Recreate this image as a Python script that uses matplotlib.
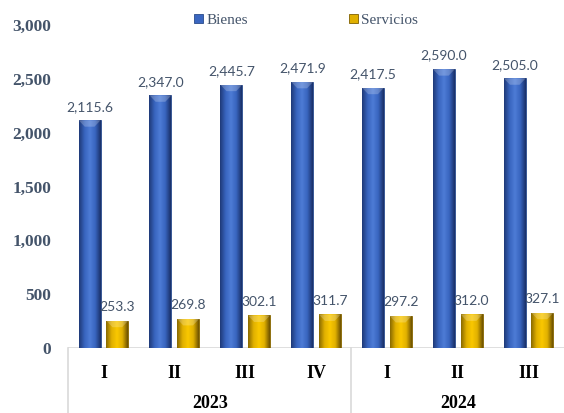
import matplotlib
matplotlib.use("Agg")
import matplotlib.pyplot as plt
import numpy as np
from matplotlib.colors import LinearSegmentedColormap
from matplotlib.transforms import blended_transform_factory

quarters = ["I", "II", "III", "IV", "I", "II", "III"]
years = ["2023", "2024"]
year_sizes = [4, 3]
bienes = [2115.6, 2347.0, 2445.7, 2471.9, 2417.5, 2590.0, 2505.0]
servicios = [253.3, 269.8, 302.1, 311.7, 297.2, 312.0, 327.1]
series_names = ["Bienes", "Servicios"]
yticks = [0, 500, 1000, 1500, 2000, 2500, 3000]

W, H = 564, 413
fig = plt.figure(figsize=(W / 100, H / 100), dpi=100)
ax = fig.add_axes([68 / W, 1 - 348 / H, 1 - 68 / W, (348 - 25) / H])

x = np.arange(len(quarters))
bw = 0.31
off = 0.195
blue_cmap = LinearSegmentedColormap.from_list(
    "b", ["#1F3A78", "#3864BE", "#4E7CD6", "#3864BE", "#1A3068"])
gold_cmap = LinearSegmentedColormap.from_list(
    "g", ["#8A6A00", "#E0B000", "#FAC800", "#E0B000", "#6E5200"])

bars_b = ax.bar(x - off, bienes, bw, color="#3A66C0", edgecolor="#2A4A8A",
                linewidth=0.6, label=series_names[0], zorder=2)
bars_s = ax.bar(x + off, servicios, bw, color="#E0B000", edgecolor="#7F6000",
                linewidth=0.6, label=series_names[1], zorder=2)

grad = np.linspace(0, 1, 64).reshape(1, -1)
for bars, cmap in ((bars_b, blue_cmap), (bars_s, gold_cmap)):
    for p in bars:
        x0, y0 = p.get_x(), p.get_y()
        w, h = p.get_width(), p.get_height()
        im = ax.imshow(grad, cmap=cmap, aspect="auto",
                       extent=(x0, x0 + w, y0, y0 + h), zorder=3)
        im.set_clip_path(p)
        cap = min(h * 0.5, 60)
        tri = plt.Polygon([(x0, y0 + h), (x0 + w, y0 + h),
                           (x0 + w * 0.72, y0 + h - cap),
                           (x0 + w * 0.28, y0 + h - cap)],
                          closed=True, facecolor="white", alpha=0.22,
                          edgecolor="none", zorder=4)
        ax.add_patch(tri)

label_kw = dict(ha="center", va="bottom", fontsize=10, color="#44546A",
                family=["Lato", "DejaVu Sans"])
for xi, v in zip(x, bienes):
    ax.text(xi - off, v + 70, f"{v:,.1f}", **label_kw)
for xi, v in zip(x, servicios):
    ax.text(xi + off, v + 70, f"{v:,.1f}", **label_kw)

ax.set_xlim(-0.5, len(quarters) - 0.5)
ax.set_ylim(0, 3000)
ax.set_yticks(yticks)
ax.set_yticklabels([f"{t:,}" for t in yticks], fontsize=12.5, fontweight="bold",
                   family="Liberation Serif", color="#44546A")
ax.tick_params(axis="y", length=0, pad=12)
ax.set_xticks([])
for s in ax.spines.values():
    s.set_visible(False)

trans = blended_transform_factory(ax.transData, ax.transAxes)
lc = "#D9D9D9"
ax.axhline(0, color=lc, linewidth=1.2, zorder=1)
ax_h = (348 - 25)
row1 = -(373 - 348) / ax_h
row2 = -(404 - 348) / ax_h
bottom = -(413 - 348) / ax_h
for xi, q in zip(x, quarters):
    ax.text(xi, row1, q, transform=trans, ha="center", va="center",
            fontsize=13, fontweight="bold", family="Liberation Serif",
            color="black")
start = 0
bounds = [-0.5]
for yr, n in zip(years, year_sizes):
    ax.text(start + (n - 1) / 2, row2, yr, transform=trans, ha="center",
            va="center", fontsize=13, fontweight="bold",
            family="Liberation Serif", color="black")
    start += n
    bounds.append(start - 0.5)
for b in bounds[:-1]:
    ax.plot([b, b], [0, bottom], transform=trans, color=lc, linewidth=1.2,
            clip_on=False)

leg = ax.legend(loc="upper center", bbox_to_anchor=(0.5 - 0.02, 1 + 25 / ax_h),
                ncol=2, frameon=False, handlelength=0.6, handleheight=0.6,
                columnspacing=6.6, handletextpad=0.2,
                prop={"family": "Liberation Serif", "size": 11})
for t in leg.get_texts():
    t.set_color("#44546A")

fig.savefig("out.png", dpi=100)
